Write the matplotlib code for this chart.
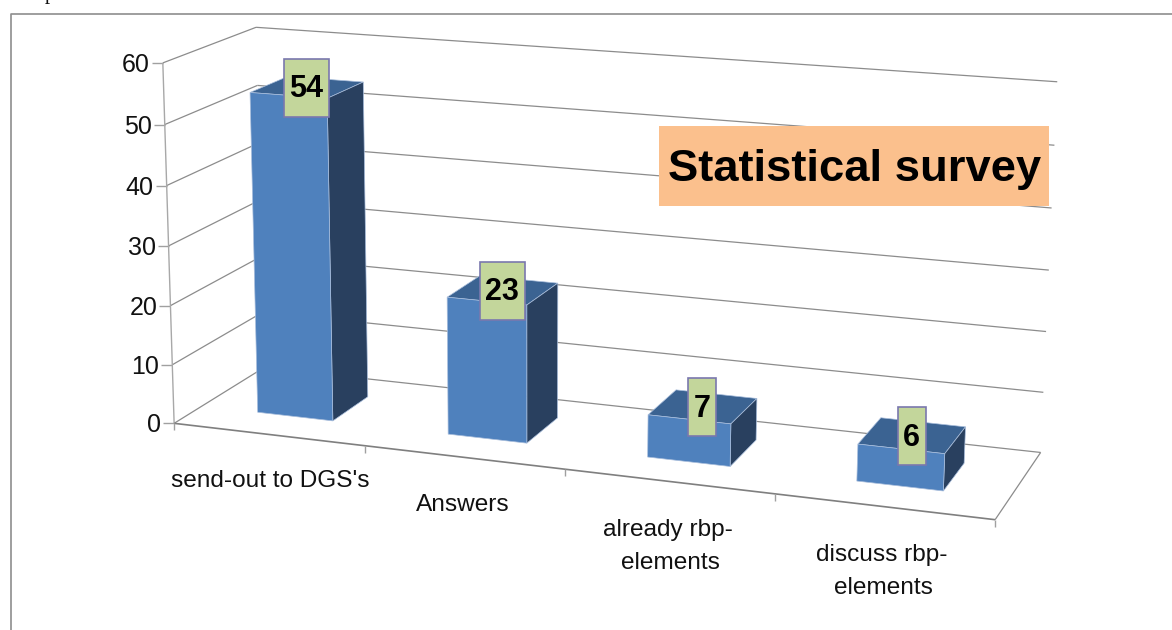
import numpy as np
import matplotlib
matplotlib.use("Agg")
import matplotlib.pyplot as plt
from matplotlib.patches import Polygon, Rectangle

categories = ["send-out to DGS's", "Answers", "already rbp-\nelements", "discuss rbp-\nelements"]
values = [54, 23, 7, 6]
value_ticks = [0, 10, 20, 30, 40, 50, 60]
chart_title = "Statistical survey"

FRONT = "#4F81BD"
TOP = "#3B6392"
SIDE = "#29405F"
GRID = "#8C8C8C"
BOX = "#C3D69B"
BOX_EDGE = "#7A78AE"

W, H = 1172, 630


def fit_camera():
    """Solve a 3x4 projective camera from (slot, depth, value) to pixel anchors."""
    anchors = [
        ((0, 0, 0), (176, 422)), ((4, 0, 0), (995, 521)),
        ((0, 1, 0), (262, 369)), ((4, 1, 0), (1041, 451)),
        ((0, 0, 60), (161, 63)), ((0, 1, 60), (258, 27)),
        ((4, 1, 60), (1057, 82)),
    ]
    rows = []
    for (x, d, v), (u, w) in anchors:
        p = [x, d, v, 1]
        rows.append(p + [0, 0, 0, 0] + [-u * c for c in p])
        rows.append([0, 0, 0, 0] + p + [-w * c for c in p])
    return np.linalg.svd(np.array(rows, float))[2][-1].reshape(3, 4)


CAM = fit_camera()


def proj(x, d, v):
    q = CAM @ np.array([x, d, v, 1.0])
    return q[0] / q[2], q[1] / q[2]


fig = plt.figure(figsize=(W / 100, H / 100), dpi=100)
ax = fig.add_axes([0, 0, 1, 1])
ax.set_xlim(0, W)
ax.set_ylim(H, 0)
ax.axis("off")
plt.rcParams["font.family"] = ["Liberation Sans", "DejaVu Sans"]


def seg(a, b, color=GRID, lw=1.0, z=2):
    (x0, y0), (x1, y1) = a, b
    ax.plot([x0, x1], [y0, y1], color=color, lw=lw, zorder=z, solid_capstyle="butt")


# outer chart frame, running off the right and bottom edges
ax.plot([W + 5, 10.5, 10.5], [13.5, 13.5, H + 5], color="#8E8E8E", lw=1.2, zorder=1)
ax.text(50, -5.5, "p", family="Liberation Serif", fontsize=15, ha="center", va="center", color="#111111")

# walls, floor and ticks
for v in value_ticks:
    a = proj(0, 0, v)
    seg(a, proj(0, 1, v), lw=0.9)
    seg(proj(0, 1, v), proj(4, 1, v), lw=0.9)
    seg((a[0] - 11, a[1]), a, color="#A0A0A0")
    ax.text(a[0] - 13, a[1] + 2, str(v), ha="right", va="center", fontsize=18, color="#111111")
seg(proj(0, 0, 0), proj(0, 0, 60), color="#A8A8A8")
seg(proj(0, 0, 0), proj(4, 0, 0), color="#7F7F7F", lw=1.2)
seg(proj(4, 0, 0), proj(4, 1, 0), lw=0.9)
for i in range(5):
    b = proj(i, 0, 0)
    seg(b, (b[0], b[1] + 7), color="#A0A0A0")

# category labels sit under the floor edge, one text per line
label_lines = [
    [(270, 481)],
    [(463, 505)],
    [(668, 530), (670, 563)],
    [(882, 555), (883, 588)],
]
for name, spots in zip(categories, label_lines):
    for line, (px, py) in zip(name.split("\n"), spots):
        ax.text(px, py, line, ha="center", va="center", fontsize=17.6, color="#111111")

# bars: each is a front, side and top face projected from its slot
X_GAP, D0, D1 = 0.30, 0.30, 0.72
for i, val in enumerate(values):
    x0, x1 = i + X_GAP, i + 1 - X_GAP
    front = [proj(x0, D0, 0), proj(x1, D0, 0), proj(x1, D0, val), proj(x0, D0, val)]
    side = [proj(x1, D0, 0), proj(x1, D1, 0), proj(x1, D1, val), proj(x1, D0, val)]
    top = [proj(x0, D0, val), proj(x1, D0, val), proj(x1, D1, val), proj(x0, D1, val)]
    for pts, col in ((top, TOP), (side, SIDE), (front, FRONT)):
        ax.add_patch(Polygon(pts, closed=True, facecolor=col, edgecolor="#A9BEDC", lw=0.5, zorder=3 + i * 0.01))

    # value tag centred on the top face
    cx, cy = proj(i + 0.5, 0.5, val)
    half_w = 22.5 if val >= 10 else 14
    ax.add_patch(Rectangle((cx - half_w, cy - 29), 2 * half_w, 58, facecolor=BOX,
                           edgecolor=BOX_EDGE, lw=1.2, zorder=5))
    ax.text(cx, cy + 1.5, str(val), ha="center", va="center", fontsize=22,
            fontweight="bold", color="black", zorder=6)

# chart title on its orange plate
ax.add_patch(Rectangle((659, 126), 390, 80, facecolor="#FBC08D", edgecolor="none", zorder=7))
ax.text(855, 170, chart_title, ha="center", va="center", fontsize=32.7, fontweight="bold",
        color="black", zorder=8)

fig.savefig("out.png", dpi=100)
